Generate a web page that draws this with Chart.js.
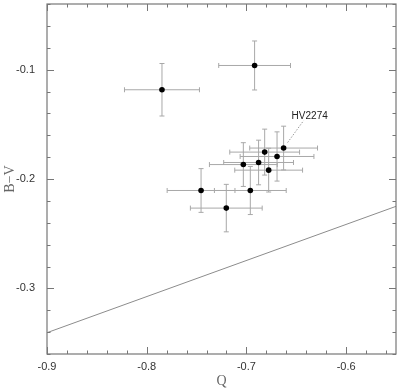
<!DOCTYPE html>
<html><head><meta charset="utf-8">
<script src="https://cdn.jsdelivr.net/npm/chart.js@4"></script>
<style>html,body{margin:0;padding:0;background:#fff;}#wrap{width:400px;height:391px;}</style>
</head><body><div id="wrap"><canvas id="c" width="400" height="391"></canvas></div>
<script>
// ---- data ----
const starNames = ["", "", "HV2274", "", "", "", "", "", "", "", ""];
const qVals  = [-0.7847, -0.6918, -0.6627, -0.6817, -0.6693, -0.6878, -0.7031, -0.6777, -0.7455, -0.6961, -0.7202];
const bvVals = [-0.1184, -0.0962, -0.1717, -0.1754, -0.1794, -0.1849, -0.1868, -0.1919, -0.2105, -0.2105, -0.2266];
const qErr   = [0.0376, 0.0360, 0.0340, 0.0350, 0.0370, 0.0350, 0.0340, 0.0340, 0.0340, 0.0360, 0.0360];
const bvErr  = [0.0240, 0.0224, 0.0200, 0.0210, 0.0225, 0.0204, 0.0200, 0.0200, 0.0200, 0.0220, 0.0217];
const lineQ  = [-0.9, -0.55];
const lineBV = [-0.3405, -0.2250];
const xMajorTicks = [-0.9, -0.8, -0.7, -0.6];
const xMinorTicks = [-0.88,-0.86,-0.84,-0.82,-0.78,-0.76,-0.74,-0.72,-0.68,-0.66,-0.64,-0.62,-0.58,-0.56];
const yMajorTicks = [-0.3, -0.2, -0.1];
const yMinorTicks = [-0.36,-0.34,-0.32,-0.28,-0.26,-0.24,-0.22,-0.18,-0.16,-0.14,-0.12,-0.08,-0.06,-0.04];
const xLabel = "Q";
const yLabel = "B\u2212V";

const errPlugin = {
  id: 'errbars',
  beforeDatasetsDraw(chart) {
    const {ctx, scales: {x, y}} = chart;
    ctx.save();
    ctx.strokeStyle = '#a8a8a8';
    ctx.lineWidth = 1;
    const cap = 2.5;
    for (let i = 0; i < qVals.length; i++) {
      const px = x.getPixelForValue(qVals[i]);
      const py = y.getPixelForValue(bvVals[i]);
      const x0 = x.getPixelForValue(qVals[i] - qErr[i]);
      const x1 = x.getPixelForValue(qVals[i] + qErr[i]);
      const y0 = y.getPixelForValue(bvVals[i] + bvErr[i]);
      const y1 = y.getPixelForValue(bvVals[i] - bvErr[i]);
      ctx.beginPath();
      ctx.moveTo(x0, py); ctx.lineTo(x1, py);
      ctx.moveTo(x0, py - cap); ctx.lineTo(x0, py + cap);
      ctx.moveTo(x1, py - cap); ctx.lineTo(x1, py + cap);
      ctx.moveTo(px, y0); ctx.lineTo(px, y1);
      ctx.moveTo(px - cap, y0); ctx.lineTo(px + cap, y0);
      ctx.moveTo(px - cap, y1); ctx.lineTo(px + cap, y1);
      ctx.stroke();
    }
    // star label with dotted leader
    for (let i = 0; i < starNames.length; i++) {
      if (!starNames[i]) continue;
      const px = x.getPixelForValue(qVals[i]);
      const py = y.getPixelForValue(bvVals[i]);
      ctx.setLineDash([1.5, 1.5]);
      ctx.strokeStyle = '#999';
      ctx.beginPath();
      ctx.moveTo(px + 4, py - 5.5);
      ctx.lineTo(px + 20, py - 27.5);
      ctx.stroke();
      ctx.setLineDash([]);
      ctx.fillStyle = '#222';
      ctx.font = '10px "Liberation Sans", Arial, sans-serif';
      ctx.textAlign = 'left';
      ctx.textBaseline = 'alphabetic';
      ctx.fillText(starNames[i], px + 8, py - 29.5);
    }
    ctx.restore();
  }
};

const framePlugin = {
  id: 'frame',
  afterDraw(chart) {
    const {ctx, chartArea: a, scales: {x, y}} = chart;
    ctx.save();
    ctx.strokeStyle = '#777';
    ctx.lineWidth = 1.2;
    ctx.strokeRect(a.left, a.top, a.right - a.left, a.bottom - a.top);
    ctx.lineWidth = 1;
    const drawX = (vals, len) => {
      vals.forEach(v => {
        const p = Math.round(x.getPixelForValue(v)) + 0.5;
        ctx.beginPath();
        ctx.moveTo(p, a.bottom); ctx.lineTo(p, a.bottom - len);
        ctx.moveTo(p, a.top); ctx.lineTo(p, a.top + len);
        ctx.stroke();
      });
    };
    const drawY = (vals, len) => {
      vals.forEach(v => {
        const p = Math.round(y.getPixelForValue(v)) + 0.5;
        ctx.beginPath();
        ctx.moveTo(a.left, p); ctx.lineTo(a.left + len, p);
        ctx.moveTo(a.right, p); ctx.lineTo(a.right - len, p);
        ctx.stroke();
      });
    };
    drawX(xMajorTicks, 7); drawX(xMinorTicks, 3.5);
    drawY(yMajorTicks, 7); drawY(yMinorTicks, 3.5);
    ctx.restore();
  }
};

new Chart(document.getElementById('c'), {
  type: 'scatter',
  data: {
    datasets: [
      {
        label: 'stars',
        data: qVals.map((q, i) => ({x: q, y: bvVals[i]})),
        backgroundColor: '#000',
        borderColor: '#000',
        pointRadius: 2.8,
        pointBorderWidth: 0
      },
      {
        type: 'line',
        label: 'relation',
        data: lineQ.map((q, i) => ({x: q, y: lineBV[i]})),
        borderColor: '#8c8c8c',
        borderWidth: 1,
        pointRadius: 0,
        fill: false
      }
    ]
  },
  options: {
    responsive: false,
    animation: false,
    devicePixelRatio: 1,
    layout: {padding: {top: 4, right: 4, left: 0, bottom: 0}},
    plugins: {legend: {display: false}, tooltip: {enabled: false}},
    scales: {
      x: {
        type: 'linear', min: -0.9, max: -0.55,
        grid: {display: false, drawTicks: false, tickLength: 0},
        border: {display: false},
        afterBuildTicks: s => { s.ticks = xMajorTicks.map(v => ({value: v})); },
        afterFit: s => { s.height = 37; s.paddingLeft = 0; s.paddingRight = 0; },
        ticks: {
          padding: 6, color: '#333',
          font: {family: '"Liberation Sans", Arial, sans-serif', size: 11},
          callback: v => String(Math.round(v * 10) / 10),
          maxRotation: 0
        },
        title: {display: true, text: xLabel, color: '#666',
          font: {family: '"Liberation Serif", "Times New Roman", serif', size: 14},
          padding: {top: 0, bottom: 1}}
      },
      y: {
        type: 'linear', min: -0.36, max: -0.04,
        grid: {display: false, drawTicks: false, tickLength: 0},
        border: {display: false},
        afterBuildTicks: s => { s.ticks = yMajorTicks.map(v => ({value: v})); },
        afterFit: s => { s.width = 47; s.paddingTop = 0; s.paddingBottom = 0; },
        ticks: {
          padding: 12, color: '#333',
          font: {family: '"Liberation Sans", Arial, sans-serif', size: 11},
          callback: v => String(Math.round(v * 10) / 10)
        },
        title: {display: true, text: yLabel, color: '#666',
          font: {family: '"Liberation Serif", "Times New Roman", serif', size: 14},
          padding: {top: 2, bottom: 0}}
      }
    }
  },
  plugins: [errPlugin, framePlugin]
});
</script></body></html>
